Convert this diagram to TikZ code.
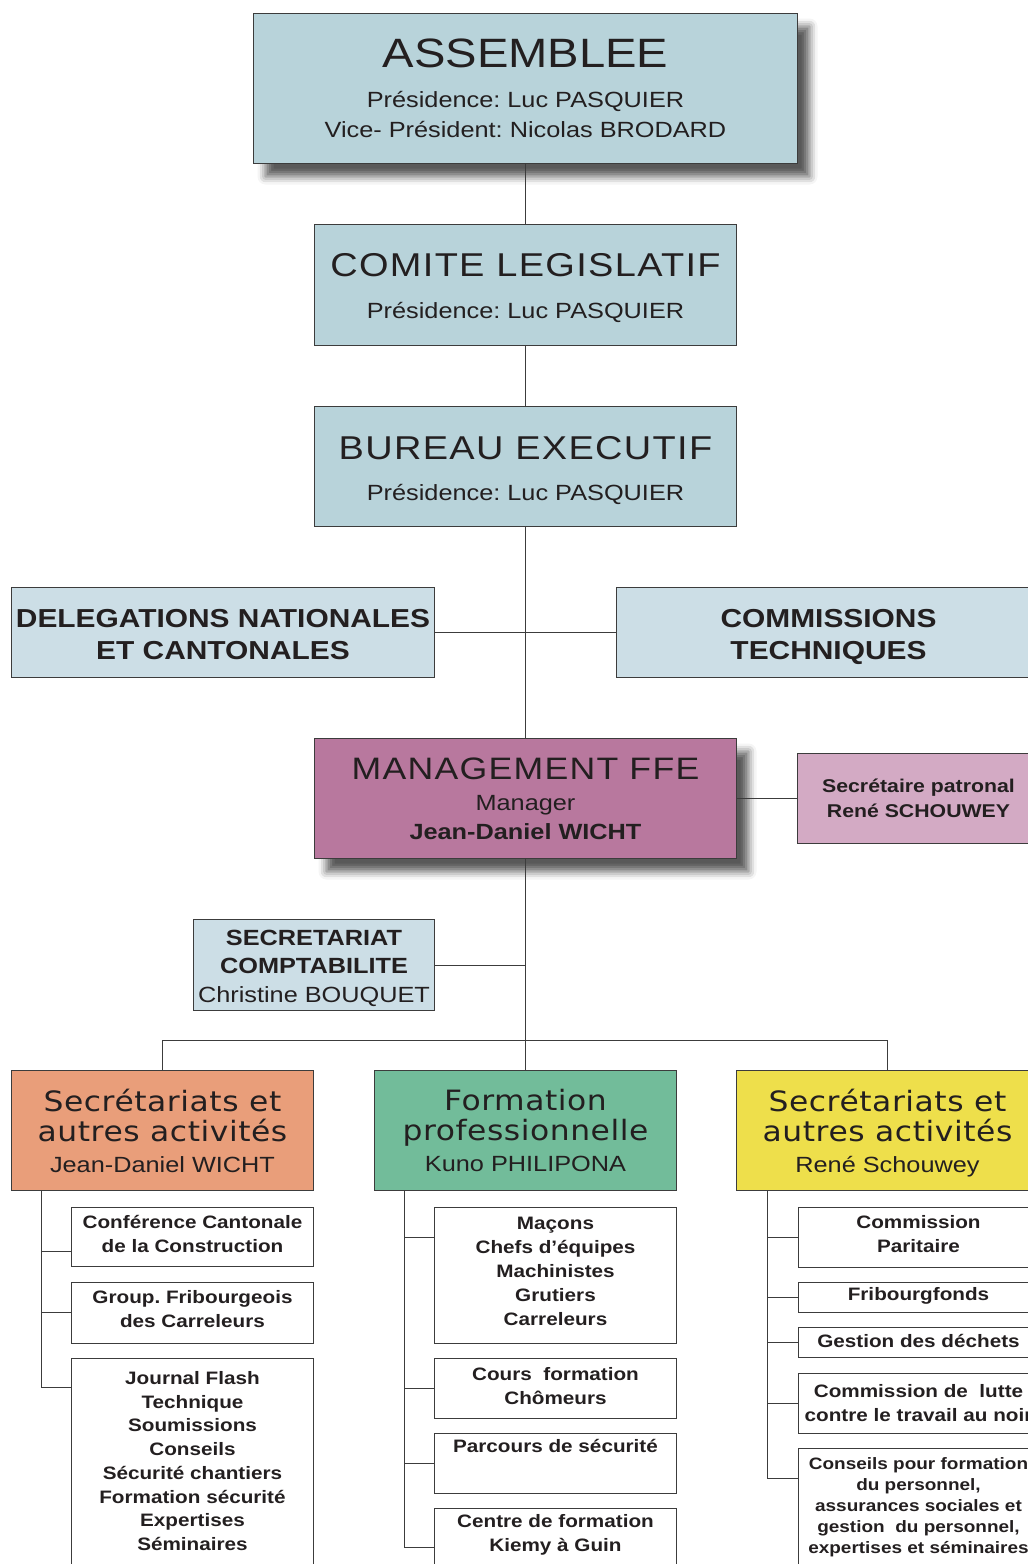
\documentclass[tikz,border=0pt]{standalone}
\usepackage{fontspec}
\setmainfont{Liberation Sans}[FakeStretch=1.15]
\newfontfamily\spacedfont{Liberation Sans}[FakeStretch=1.15,LetterSpace=4]
\newfontfamily\unitfont{DejaVu Sans}[FakeStretch=1.12,LetterSpace=2]
\usetikzlibrary{shadows.blur}
\frenchspacing

\definecolor{ink}{HTML}{231F20}
\definecolor{lineclr}{HTML}{3C3C3C}
\definecolor{steel}{HTML}{B8D3DA}
\definecolor{pale}{HTML}{CCDEE6}
\definecolor{mauve}{HTML}{B8789E}
\definecolor{lilac}{HTML}{D3AAC4}
\definecolor{salmon}{HTML}{E99E7A}
\definecolor{sage}{HTML}{72BC9A}
\definecolor{mustard}{HTML}{EEDF4B}

\newcommand\unitttl{\unitfont\fontsize{28}{30}\selectfont}

\begin{document}
\begin{tikzpicture}[x=1pt, y=-1pt,
    box/.style={draw=lineclr, line width=1pt, anchor=north west, align=center, text=ink, inner sep=0pt},
    dims/.style 2 args={minimum width=#1pt, minimum height=#2pt},
    floating/.style={blur shadow={shadow xshift=12pt, shadow yshift=-13pt, shadow blur radius=8pt, shadow opacity=65}},
    unit/.style={box, font=\bfseries\fontsize{18}{24}\selectfont},
    link/.style={draw=lineclr, line width=1pt}]
  \useasboundingbox (0,0) rectangle (1028,1564);
  \clip (0,0) rectangle (1028,1564);

  % top of the tree
  \node[box, floating, fill=steel, dims={544}{150}, font=\fontsize{22}{30}\selectfont] (assemblee) at (253,13)
    {{\fontsize{41}{41}\selectfont ASSEMBLEE}\\[10pt] Présidence: Luc PASQUIER\\ Vice- Président: Nicolas BRODARD};
  \node[box, fill=steel, dims={422}{121}, text height=71.6pt, font=\fontsize{22}{30}\selectfont] (comite) at (314,224)
    {{\spacedfont\fontsize{33}{33}\selectfont COMITE LEGISLATIF}\\[12pt] Présidence: Luc PASQUIER};
  \node[box, fill=steel, dims={422}{120}, text height=71.2pt, font=\fontsize{22}{30}\selectfont] (bureau) at (314,406)
    {{\spacedfont\fontsize{33}{33}\selectfont BUREAU EXECUTIF}\\[11pt] Présidence: Luc PASQUIER};
  \node[box, fill=pale, dims={423}{90}, text height=54pt, font=\bfseries\fontsize{26}{32}\selectfont] (deleg) at (11,587)
    {DELEGATIONS NATIONALES\\ ET CANTONALES};
  \node[box, fill=pale, dims={424}{90}, text height=54pt, text depth=0pt, font=\bfseries\fontsize{26}{32}\selectfont] (commiss) at (616,587)
    {COMMISSIONS\\ TECHNIQUES};

  % management
  \node[box, floating, fill=mauve, dims={422}{120}, font=\fontsize{22}{29}\selectfont] (mgmt) at (314,738)
    {{\spacedfont\fontsize{31}{31}\selectfont MANAGEMENT FFE}\\[2pt] Manager\\ \textbf{Jean-Daniel WICHT}};
  \node[box, fill=lilac, dims={242}{90}, font=\bfseries\fontsize{18.5}{24.5}\selectfont] (secpat) at (797,753)
    {Secrétaire patronal\\ René SCHOUWEY};
  \node[box, fill=pale, dims={241}{91}, text height=78.4pt, font=\fontsize{22}{28.5}\selectfont] (secret) at (193,919)
    {\textbf{SECRETARIAT}\\ \textbf{COMPTABILITE}\\ Christine BOUQUET};

  % departments
  \node[box, fill=salmon, dims={302}{120}, font=\fontsize{22}{30}\selectfont] (activites) at (11,1070)
    {{\unitttl Secrétariats et}\\ {\unitttl autres activités}\\[1pt] Jean-Daniel WICHT};
  \node[box, fill=sage, dims={302}{120}, font=\fontsize{22}{30}\selectfont] (formation) at (374,1070)
    {{\unitttl Formation}\\ {\unitttl professionnelle}\\[1pt] Kuno PHILIPONA};
  \node[box, fill=mustard, dims={302}{120}, text depth=0pt, font=\fontsize{22}{30}\selectfont] (activitesrs) at (736,1070)
    {{\unitttl Secrétariats et}\\ {\unitttl autres activités}\\[1pt] René Schouwey};

  % left column
  \node[unit, dims={242}{59}, text depth=6pt] (conf) at (71,1207) {Conférence Cantonale\\ de la Construction};
  \node[unit, dims={242}{61}, text depth=8pt] (group) at (71,1282) {Group. Fribourgeois\\ des Carreleurs};
  \node[unit, dims={242}{209}, text depth=4pt, font=\bfseries\fontsize{18}{23.7}\selectfont] (journal) at (71,1358)
    {Journal Flash\\ Technique\\ Soumissions\\ Conseils\\ Sécurité chantiers\\ Formation sécurité\\ Expertises\\ Séminaires};

  % middle column
  \node[unit, dims={242}{136}, text depth=9pt] (macons) at (434,1207) {Maçons\\ Chefs d’équipes\\ Machinistes\\ Grutiers\\ Carreleurs};
  \node[unit, dims={242}{60}, text depth=5pt] (cours) at (434,1358) {Cours~ formation\\ Chômeurs};
  \node[unit, dims={242}{60}, text depth=35pt] (parcours) at (434,1433) {Parcours de sécurité};
  \node[unit, dims={242}{70}, text depth=21pt] (centre) at (434,1508) {Centre de formation\\ Kiemy à Guin};

  % right column
  \node[unit, dims={240}{60}, text depth=7pt] (paritaire) at (798,1207) {Commission\\ Paritaire};
  \node[unit, dims={240}{30}, text depth=7pt] (fribourg) at (798,1282) {Fribourgfonds};
  \node[unit, dims={240}{30}, text depth=3pt] (dechets) at (798,1327) {Gestion des déchets};
  \node[unit, dims={240}{60}] (lutte) at (798,1373) {Commission de~ lutte\\ contre le travail au noir};
  \node[unit, dims={240}{130}, text depth=16pt, font=\bfseries\fontsize{16.5}{21.2}\selectfont] (conseils) at (798,1448)
    {Conseils pour formation\\ du personnel,\\ assurances sociales et\\ gestion~ du personnel,\\ expertises et séminaires};

  % trunk
  \draw[link] (assemblee) -- (comite);
  \draw[link] (comite) -- (bureau);
  \draw[link] (bureau) -- (mgmt);
  \draw[link] (deleg) -- (commiss);
  \draw[link] (mgmt) -- (secpat);
  \draw[link] (mgmt) -- (formation);
  \draw[link] (secret) -- (secret -| mgmt);
  \coordinate (bus) at (525,1040);
  \draw[link] (activites.north) |- (bus) -| (activitesrs.north);

  % branches
  \draw[link] ([xshift=30pt]activites.south west) |- ([yshift=-44pt]conf.north west);
  \draw[link] ([xshift=30pt]activites.south west) |- ([yshift=-30pt]group.north west);
  \draw[link] ([xshift=30pt]activites.south west) |- ([yshift=-29pt]journal.north west);
  \draw[link] ([xshift=30pt]formation.south west) |- ([yshift=-30pt]macons.north west);
  \draw[link] ([xshift=30pt]formation.south west) |- ([yshift=-30pt]cours.north west);
  \draw[link] ([xshift=30pt]formation.south west) |- ([yshift=-30pt]parcours.north west);
  \draw[link] ([xshift=30pt]formation.south west) |- ([yshift=-39pt]centre.north west);
  \draw[link] ([xshift=31pt]activitesrs.south west) |- ([yshift=-30pt]paritaire.north west);
  \draw[link] ([xshift=31pt]activitesrs.south west) |- ([yshift=-15pt]fribourg.north west);
  \draw[link] ([xshift=31pt]activitesrs.south west) |- ([yshift=-15pt]dechets.north west);
  \draw[link] ([xshift=31pt]activitesrs.south west) |- ([yshift=-30pt]lutte.north west);
  \draw[link] ([xshift=31pt]activitesrs.south west) |- ([yshift=-30pt]conseils.north west);
\end{tikzpicture}
\end{document}
